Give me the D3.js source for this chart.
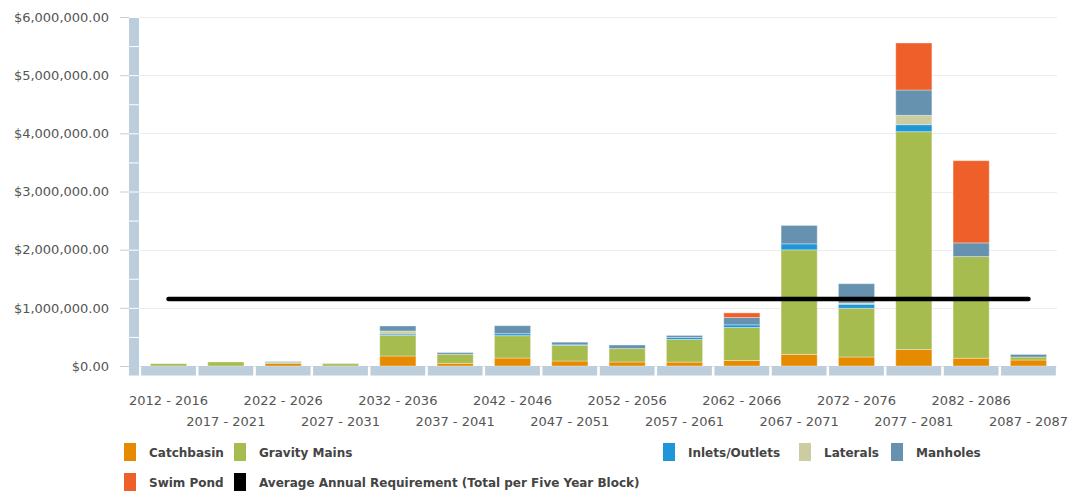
<!DOCTYPE html>
<html>
<head>
<meta charset="utf-8">
<script src="https://cdn.jsdelivr.net/npm/d3@7"></script>
<style>
  html, body { margin: 0; padding: 0; background: #ffffff; }
  svg { display: block; font-family: "DejaVu Sans", Verdana, sans-serif; }
</style>
</head>
<body>
<svg id="chart" width="1069" height="491"></svg>
<script>
// Five-year planning blocks
const categories = [
  "2012 - 2016", "2017 - 2021", "2022 - 2026", "2027 - 2031",
  "2032 - 2036", "2037 - 2041", "2042 - 2046", "2047 - 2051",
  "2052 - 2056", "2057 - 2061", "2062 - 2066", "2067 - 2071",
  "2072 - 2076", "2077 - 2081", "2082 - 2086", "2087 - 2087"
];

// Replacement cost per asset class, dollars per block
const catchbasin   = [0, 0, 45000, 0, 172000, 46000, 137000, 86000, 69000, 67000, 95000, 200000, 155000, 283000, 134000, 103000];
const gravityMains = [40000, 69000, 15000, 40000, 356000, 155000, 385000, 268000, 230000, 390000, 567000, 1797000, 837000, 3746000, 1747000, 50000];
const inletsOutlets = [0, 0, 0, 0, 22000, 0, 34000, 10000, 0, 34000, 46000, 103000, 70000, 120000, 0, 0];
const laterals     = [0, 0, 0, 10000, 52000, 0, 0, 0, 0, 0, 0, 0, 20000, 160000, 0, 0];
const manholes     = [0, 0, 15000, 0, 86000, 30000, 137000, 45000, 62000, 34000, 125000, 316000, 333000, 436000, 235000, 46000];
const swimPond     = [0, 0, 0, 0, 0, 0, 0, 0, 0, 0, 80000, 0, 0, 808000, 1414000, 0];

// Average annual requirement (total per five year block)
const averageRequirement = 1150000;

const yTicks = [0, 1000000, 2000000, 3000000, 4000000, 5000000, 6000000];

const seriesNames = ["Catchbasin", "Gravity Mains", "Inlets/Outlets", "Laterals", "Manholes", "Swim Pond"];
const seriesValues = [catchbasin, gravityMains, inletsOutlets, laterals, manholes, swimPond];
const seriesColors = ["#e68a00", "#a6bc4e", "#1f96d8", "#cdcba0", "#6692b0", "#ef5f2a"];

const svg = d3.select("#chart");

const plot = { left: 140, right: 1057, top: 17, bottom: 366 };
const wallColor = "#bccddc";

const x = d3.scaleBand().domain(categories).range([plot.left, plot.right]).paddingInner(0.045).paddingOuter(0.02);
const y = d3.scaleLinear().domain([0, 6000000]).range([plot.bottom, plot.top]);

// Gridlines
svg.append("g").selectAll("line").data(yTicks).join("line")
  .attr("x1", plot.left - 1).attr("x2", plot.right)
  .attr("y1", d => Math.round(y(d)) + 0.5).attr("y2", d => Math.round(y(d)) + 0.5)
  .attr("stroke", "#ececec").attr("stroke-width", 1);

// Left wall, split every half million
const halfSteps = d3.range(0, 6000000, 500000);
const wall = svg.append("g");
wall.selectAll("rect").data(halfSteps).join("rect")
  .attr("x", 129).attr("width", 10)
  .attr("y", d => y(d + 500000) + 1)
  .attr("height", d => (d === 0 ? (plot.bottom + 9.5) : y(d)) - y(d + 500000) - 1)
  .attr("fill", wallColor);

// Floor under each block
svg.append("g").selectAll("rect").data(categories).join("rect")
  .attr("x", d => x(d)).attr("width", x.bandwidth())
  .attr("y", plot.bottom).attr("height", 9.5)
  .attr("fill", wallColor);

// Y axis
const yAxis = d3.axisLeft(y).tickValues(yTicks).tickSize(9).tickPadding(11)
  .tickFormat(d => "$" + d3.format(",.2f")(d));
const yg = svg.append("g").attr("transform", "translate(129,0)").call(yAxis);
yg.select(".domain").remove();
yg.selectAll(".tick line").attr("stroke", "#c0d0e0");
yg.selectAll(".tick text").attr("fill", "#555").style("font-size", "13px")
  .style("font-family", "'DejaVu Sans', Verdana, sans-serif");

// X axis labels, staggered on two rows
const xAxis = d3.axisBottom(x).tickSize(0).tickPadding(0);
const xg = svg.append("g").attr("transform", `translate(0,${plot.bottom})`).call(xAxis);
xg.select(".domain").remove();
xg.selectAll(".tick text")
  .attr("fill", "#555").style("font-size", "13px")
  .style("font-family", "'DejaVu Sans', Verdana, sans-serif")
  .attr("dy", null)
  .attr("y", (d, i) => i % 2 === 0 ? 38.5 : 59.5);

// Stacked bars
const table = categories.map((c, i) => {
  const row = { category: c };
  seriesNames.forEach((s, k) => { row[s] = seriesValues[k][i]; });
  return row;
});
const stacked = d3.stack().keys(seriesNames)(table);
const barW = x.bandwidth() * 0.66;

svg.append("g").selectAll("g").data(stacked).join("g")
  .attr("fill", (d, i) => seriesColors[i])
  .selectAll("rect").data(d => d.filter(p => p[1] - p[0] > 0)).join("rect")
  .attr("x", d => x(d.data.category) + (x.bandwidth() - barW) / 2)
  .attr("width", barW)
  .attr("y", d => y(d[1]))
  .attr("height", d => y(d[0]) - y(d[1]))
  .attr("stroke", "rgba(255,255,255,0.35)").attr("stroke-width", 1);

// Average annual requirement line
const avgLine = d3.line()
  .x(d => x(d) + x.bandwidth() / 2)
  .y(() => y(averageRequirement));
svg.append("path")
  .datum([categories[0], categories[categories.length - 1]])
  .attr("d", avgLine)
  .attr("fill", "none").attr("stroke", "#000").attr("stroke-width", 4.5)
  .attr("stroke-linecap", "round");

// Legend
const legendItems = seriesNames.map((s, i) => ({ name: s, color: seriesColors[i] }))
  .concat([{ name: "Average Annual Requirement (Total per Five Year Block)", color: "#000" }]);
const legendCols = [124, 234, 663, 799, 891];
const legend = svg.append("g").selectAll("g").data(legendItems).join("g")
  .attr("transform", (d, i) => `translate(${legendCols[i % 5]},${i < 5 ? 443 : 473})`);
legend.append("rect").attr("width", 12).attr("height", 18).attr("fill", d => d.color);
legend.append("text").attr("x", 25).attr("y", 13.5)
  .attr("fill", "#444").style("font-size", "12px").style("font-weight", "bold")
  .text(d => d.name);
</script>
</body>
</html>
